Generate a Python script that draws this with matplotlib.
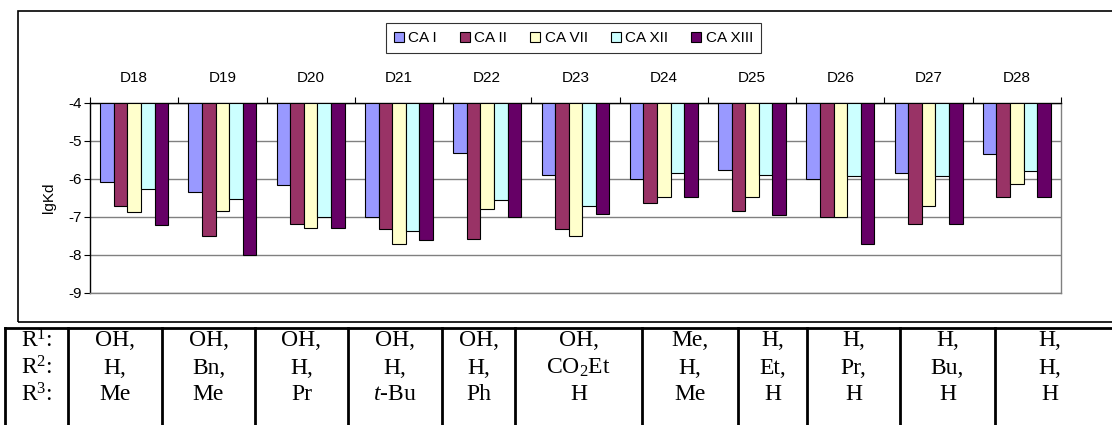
import matplotlib
matplotlib.use("Agg")
import matplotlib.pyplot as plt
import numpy as np
from matplotlib.patches import Rectangle, Patch
from matplotlib.lines import Line2D

plt.rcParams['font.family'] = ['Liberation Sans', 'DejaVu Sans']
plt.rcParams['mathtext.fontset'] = 'custom'
plt.rcParams['mathtext.rm'] = 'Liberation Serif'
plt.rcParams['mathtext.it'] = 'Liberation Serif:italic'
plt.rcParams['mathtext.bf'] = 'Liberation Serif:bold'

# ---- data ----
compounds = ["D18", "D19", "D20", "D21", "D22", "D23", "D24", "D25", "D26", "D27", "D28"]
series_names = ["CA I", "CA II", "CA VII", "CA XII", "CA XIII"]
ca_i    = [-6.08, -6.33, -6.16, -7.00, -5.31, -5.89, -6.00, -5.75, -6.00, -5.85, -5.35]
ca_ii   = [-6.70, -7.50, -7.19, -7.31, -7.57, -7.31, -6.63, -6.84, -7.00, -7.19, -6.47]
ca_vii  = [-6.86, -6.84, -7.28, -7.70, -6.80, -7.50, -6.47, -6.47, -7.00, -6.70, -6.12]
ca_xii  = [-6.27, -6.52, -7.00, -7.38, -6.55, -6.70, -5.85, -5.89, -5.93, -5.93, -5.78]
ca_xiii = [-7.20, -8.00, -7.28, -7.61, -7.00, -6.92, -6.47, -6.95, -7.70, -7.19, -6.47]
colors = ["#9999FF", "#993366", "#FFFFCC", "#CCFFFF", "#660066"]
y_ticks = [-4, -5, -6, -7, -8, -9]

row_labels = ["R$^1$:", "R$^2$:", "R$^3$:"]
r1 = ["OH,", "OH,", "OH,", "OH,", "OH,", "OH,", "Me,", "H,", "H,", "H,", "H,"]
r2 = ["H,", "Bn,", "H,", "H,", "H,", "CO$_2$Et", "H,", "Et,", "Pr,", "Bu,", "H,"]
r3 = ["Me", "Me", "Pr", "$t$-Bu", "Ph", "H", "Me", "H", "H", "H", "H"]

W, H = 1112, 425
fig = plt.figure(figsize=(W / 100, H / 100), dpi=100)

def fx(px):
    return px / W

def fy(py):
    return (H - py) / H

FS = 11

# outer chart box
fig.patches.append(Rectangle((fx(18), fy(322)), 1.1, fy(11) - fy(322),
                             transform=fig.transFigure, fill=False,
                             edgecolor='black', linewidth=1.2, zorder=0))

ax = fig.add_axes([fx(90), fy(293), fx(1061) - fx(90), fy(103) - fy(293)])
series = [ca_i, ca_ii, ca_vii, ca_xii, ca_xiii]
x = np.arange(len(compounds))
bw = 1 / 6.5
for k, (vals, c) in enumerate(zip(series, colors)):
    v = np.array(vals)
    ax.bar(x + (k - 2) * bw, v - (-4), bottom=-4, width=bw, color=c,
           edgecolor='black', linewidth=0.8, zorder=3)

ax.set_xlim(-0.5, len(compounds) - 0.5)
ax.set_ylim(-9, -4)
ax.set_yticks(y_ticks)
ax.set_yticklabels([str(t) for t in y_ticks], fontsize=FS)
ax.yaxis.grid(True, color='#808080', linewidth=1.0, zorder=0)
ax.set_axisbelow(True)
ax.tick_params(axis='y', direction='out', length=4, width=0.8, pad=2)

ax.xaxis.tick_top()
ax.set_xticks(x)
ax.set_xticklabels(compounds, fontsize=FS)
ax.set_xticks(np.arange(len(compounds) + 1) - 0.5, minor=True)
ax.tick_params(axis='x', which='major', length=0, pad=13)
ax.tick_params(axis='x', which='minor', direction='out', length=4, width=0.8, top=True, bottom=False)

ax.spines['left'].set_color('black')
ax.spines['top'].set_color('black')
ax.spines['right'].set_color('#808080')
ax.spines['bottom'].set_color('#808080')
for s in ax.spines.values():
    s.set_linewidth(1.0)

ax.set_ylabel("lgKd", fontsize=FS, labelpad=9)

handles = [Patch(facecolor=c, edgecolor='black', linewidth=0.8) for c in colors]
fig.legend(handles, series_names, loc='center', bbox_to_anchor=(fx(573.5), fy(38)),
           ncol=5, frameon=True, fancybox=False, edgecolor='black', fontsize=FS,
           handlelength=0.65, handleheight=0.65, handletextpad=0.3, columnspacing=1.5,
           borderpad=0.5, borderaxespad=0)
fig.legends[0].get_frame().set_linewidth(0.8)

# ---- table ----
col_lines = [5, 68, 162, 255, 348, 442, 515, 642, 738, 807, 900, 995, 1112]
top_px = 328
fig.add_artist(Line2D([fx(5), 1.0], [fy(top_px), fy(top_px)], transform=fig.transFigure,
                      color='black', linewidth=2.0))
for xl in col_lines[:-1]:
    fig.add_artist(Line2D([fx(xl), fx(xl)], [fy(top_px), 0], transform=fig.transFigure,
                          color='black', linewidth=2.0))
row_y = [341, 368, 395]
centers = [(col_lines[i] + col_lines[i + 1]) / 2 for i in range(len(col_lines) - 1)]
centers[-1] = 1050
tfont = dict(family=['Liberation Serif', 'DejaVu Serif'], fontsize=17, ha='center', va='center')
for j, lab in enumerate(row_labels):
    fig.text(fx(centers[0]), fy(row_y[j]), lab, **tfont)
for i in range(len(compounds)):
    for j, rows in enumerate([r1, r2, r3]):
        fig.text(fx(centers[i + 1]), fy(row_y[j]), rows[i], **tfont)

fig.savefig("out.png", dpi=100)
